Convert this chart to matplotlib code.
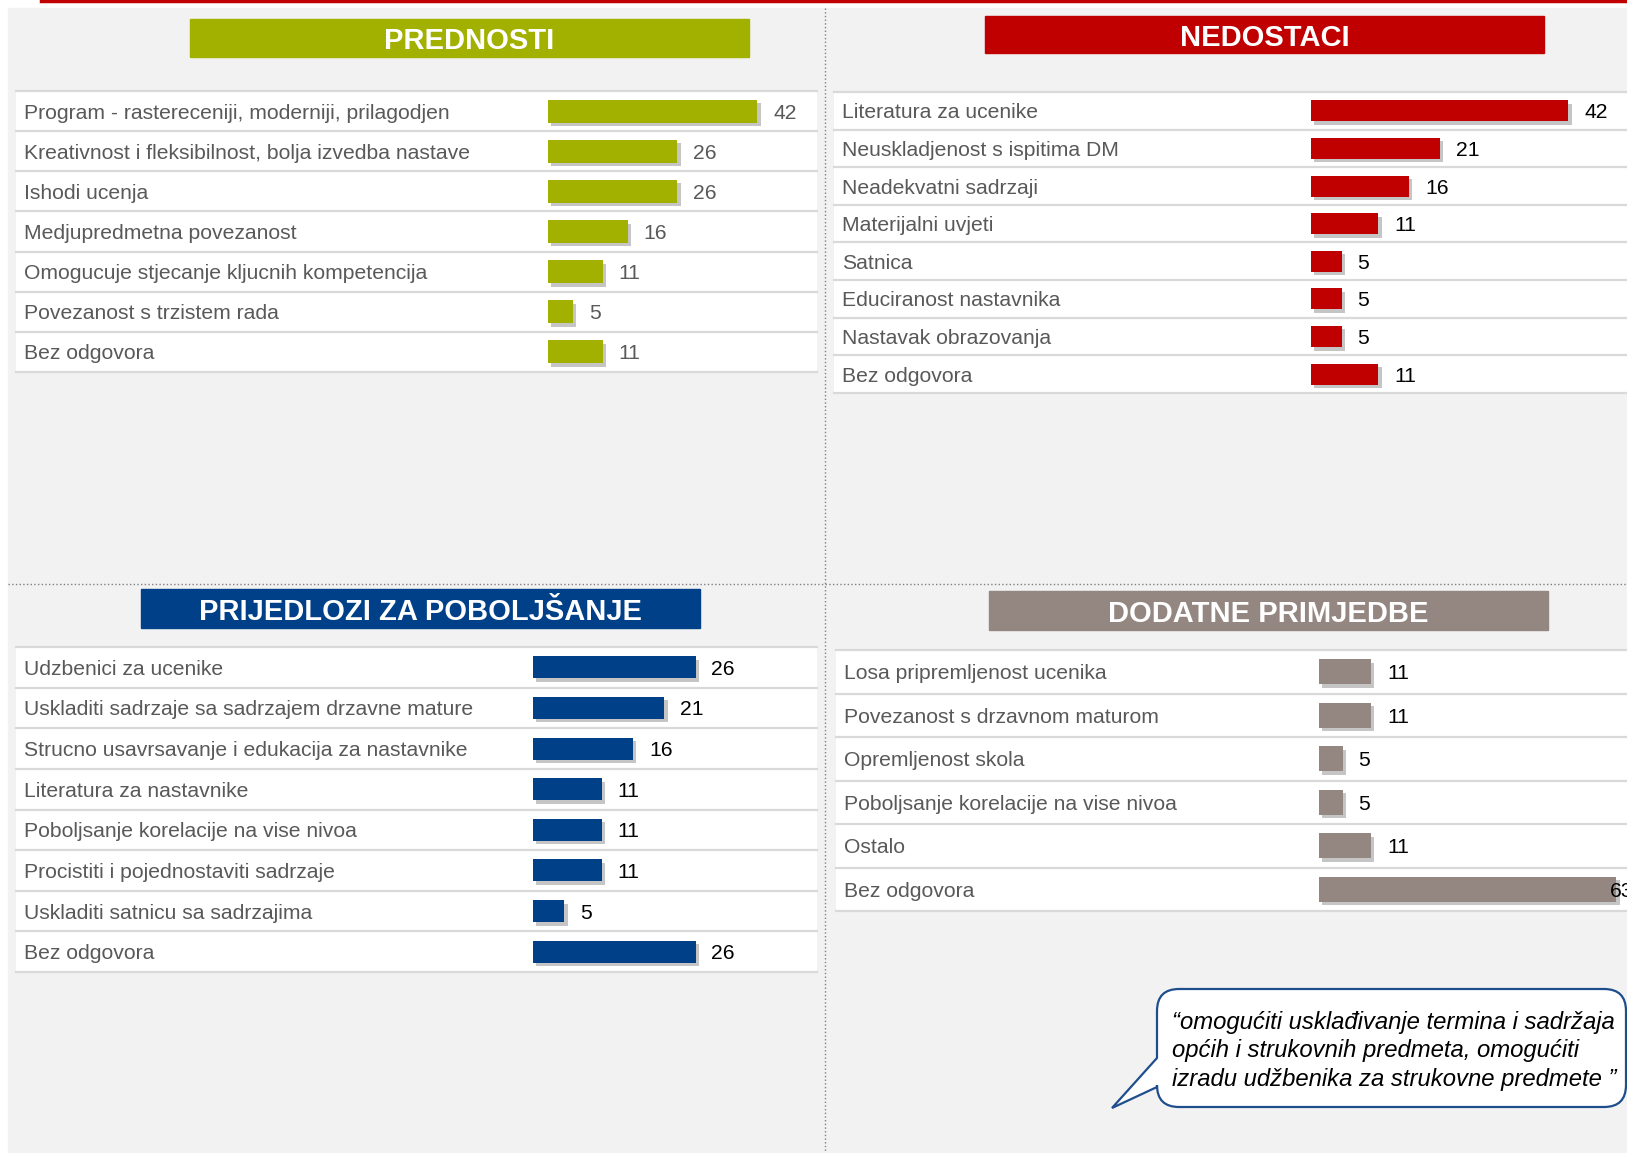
import matplotlib
matplotlib.use("Agg")
import matplotlib.pyplot as plt
import matplotlib.patheffects as pe
from matplotlib.patches import Rectangle, PathPatch
from matplotlib.lines import Line2D
from matplotlib.path import Path

plt.rcParams['font.family'] = ['Liberation Sans', 'DejaVu Sans']

W, H = 1627, 1153

prednosti_labels = ["Program - rastereceniji, moderniji, prilagodjen",
                    "Kreativnost i fleksibilnost, bolja izvedba nastave",
                    "Ishodi ucenja",
                    "Medjupredmetna povezanost",
                    "Omogucuje stjecanje kljucnih kompetencija",
                    "Povezanost s trzistem rada",
                    "Bez odgovora"]
prednosti_values = [42, 26, 26, 16, 11, 5, 11]

nedostaci_labels = ["Literatura za ucenike",
                    "Neuskladjenost s ispitima DM",
                    "Neadekvatni sadrzaji",
                    "Materijalni uvjeti",
                    "Satnica",
                    "Educiranost nastavnika",
                    "Nastavak obrazovanja",
                    "Bez odgovora"]
nedostaci_values = [42, 21, 16, 11, 5, 5, 5, 11]

prijedlozi_labels = ["Udzbenici za ucenike",
                     "Uskladiti sadrzaje sa sadrzajem drzavne mature",
                     "Strucno usavrsavanje i edukacija za nastavnike",
                     "Literatura za nastavnike",
                     "Poboljsanje korelacije na vise nivoa",
                     "Procistiti i pojednostaviti sadrzaje",
                     "Uskladiti satnicu sa sadrzajima",
                     "Bez odgovora"]
prijedlozi_values = [26, 21, 16, 11, 11, 11, 5, 26]

primjedbe_labels = ["Losa pripremljenost ucenika",
                    "Povezanost s drzavnom maturom",
                    "Opremljenost skola",
                    "Poboljsanje korelacije na vise nivoa",
                    "Ostalo",
                    "Bez odgovora"]
primjedbe_values = [11, 11, 5, 5, 11, 63]

quote_lines = ["\u201comogućiti usklađivanje termina i sadržaja",
               "općih i strukovnih predmeta, omogućiti",
               "izradu udžbenika za strukovne predmete \u201d"]


def fx(x):
    return x / W


def fy(y):
    return 1 - y / H


def title_box(fig, x0, y0, x1, y1, text, color):
    fig.add_artist(Rectangle((fx(x0), fy(y1)), (x1 - x0) / W, (y1 - y0) / H,
                             transform=fig.transFigure, color=color, zorder=2))
    fig.text(fx((x0 + x1) / 2), fy((y0 + y1) / 2), text, ha='center', va='center_baseline',
             color='white', fontsize=21, fontweight='bold', zorder=3)


def panel(fig, left, right, top, bottom, origin, scale, labels, values, color,
          value_color, bar_h, label_x):
    n = len(labels)
    ax = fig.add_axes([fx(left), fy(bottom), (right - left) / W, (bottom - top) / H])
    ax.set_xlim((left - origin) / scale, (right - origin) / scale)
    ax.set_ylim(n - 0.5, -0.5)
    ax.axis('off')
    for i in range(n):
        ax.axhspan(i - 0.5, i + 0.5, color='white', zorder=0)
    for k in range(n + 1):
        ax.axhline(k - 0.5, color='#d9d9d9', lw=1.6, zorder=1, clip_on=False)
    shadow = [pe.SimplePatchShadow(offset=(2.5, -2.5), shadow_rgbFace='#808080', alpha=0.45),
              pe.Normal()]
    ax.barh(range(n), values, height=bar_h, color=color, zorder=3, path_effects=shadow)
    xmax = (right - origin) / scale
    for i, (lab, v) in enumerate(zip(labels, values)):
        ax.text((label_x - origin) / scale, i, lab, ha='left', va='center_baseline',
                fontsize=15.2, color='#595959')
        ax.text(min(v + 16 / scale, xmax - 17 / scale), i, str(v), ha='left',
                va='center_baseline', fontsize=15.2, color=value_color, zorder=4)
    return ax


fig = plt.figure(figsize=(W / 100, H / 100), dpi=100, facecolor='white')

# background and frame
fig.add_artist(Rectangle((fx(8), 0), 1, fy(8), transform=fig.transFigure,
                         color='#f2f2f2', zorder=0))
fig.add_artist(Line2D([fx(41), 1], [fy(1), fy(1)], transform=fig.transFigure,
                      color='#c00000', lw=2.5))
fig.add_artist(Line2D([fx(825), fx(825)], [fy(8), 0], transform=fig.transFigure,
                      color='#7f7f7f', lw=1, ls=':'))
fig.add_artist(Line2D([fx(8), 1], [fy(584), fy(584)], transform=fig.transFigure,
                      color='#7f7f7f', lw=1, ls=':'))

title_box(fig, 190, 19, 749, 57, "PREDNOSTI", '#a2b000')
title_box(fig, 985, 16, 1544, 53, "NEDOSTACI", '#c00000')
title_box(fig, 141, 589, 700, 628, "PRIJEDLOZI ZA POBOLJŠANJE", '#004088')
title_box(fig, 989, 591, 1548, 630, "DODATNE PRIMJEDBE", '#948781')

panel(fig, 16, 817, 91, 372, 548, 4.98, prednosti_labels, prednosti_values,
      '#a2b000', '#595959', 0.57, 24)
panel(fig, 834, W, 92, 393, 1311, 6.12, nedostaci_labels, nedostaci_values,
      '#c00000', 'black', 0.56, 842)
panel(fig, 16, 817, 647, 972, 533, 6.25, prijedlozi_labels, prijedlozi_values,
      '#004088', 'black', 0.54, 24)
panel(fig, 836, W, 650, 911, 1319, 4.72, primjedbe_labels, primjedbe_values,
      '#948781', 'black', 0.575, 844)

# speech bubble
bl, bt, br, bb, r = 1157, 989, 1626, 1107, 22
pts = [(bl, 1058), (bl, bt + r), (bl, bt), (bl + r, bt), (br - r, bt), (br, bt), (br, bt + r),
       (br, bb - r), (br, bb), (br - r, bb), (bl + r, bb), (bl, bb), (bl, bb - r),
       (bl, 1087), (1112, 1108), (bl, 1058)]
codes = [Path.MOVETO, Path.LINETO, Path.CURVE3, Path.CURVE3, Path.LINETO, Path.CURVE3,
         Path.CURVE3, Path.LINETO, Path.CURVE3, Path.CURVE3, Path.LINETO, Path.CURVE3,
         Path.CURVE3, Path.LINETO, Path.LINETO, Path.CLOSEPOLY]
bubble = Path([(fx(x), fy(y)) for x, y in pts], codes)
fig.add_artist(PathPatch(bubble, transform=fig.transFigure, facecolor='white',
                         edgecolor='#1f4e8c', lw=1.6, zorder=5))
for k, line in enumerate(quote_lines):
    fig.text(fx(1172), fy(1020 + 28.5 * k), line, ha='left', va='center_baseline',
             fontsize=17.2, style='italic', color='black', zorder=6)

fig.savefig("out.png", dpi=100, facecolor=fig.get_facecolor())
